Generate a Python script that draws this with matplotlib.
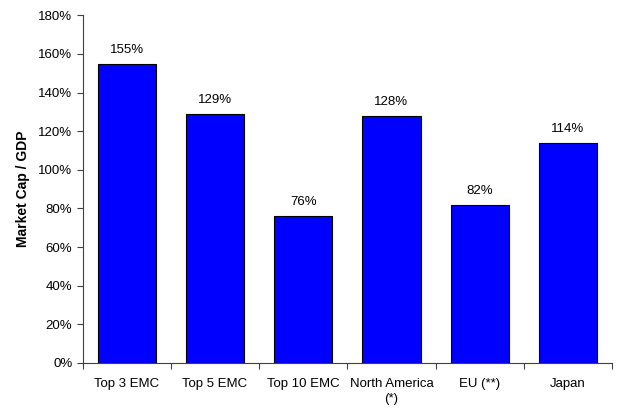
import matplotlib
matplotlib.use("Agg")
import matplotlib.pyplot as plt
import numpy as np

# chart data
categories = ["Top 3 EMC", "Top 5 EMC", "Top 10 EMC", "North America\n(*)", "EU (**)", "Japan"]
values = [155, 129, 76, 128, 82, 114]

plt.rcParams['font.family'] = ['Liberation Sans', 'DejaVu Sans']

fig = plt.figure(figsize=(6.22, 4.09), dpi=100)
ax = fig.add_axes([0.133, 0.1125, 0.851, 0.85])

x = np.arange(len(categories))
bars = ax.bar(x, values, width=0.66, color='#0000FF', edgecolor='black', linewidth=0.8)

for xi, v in zip(x, values):
	ax.text(xi, v + 4, f"{v}%", ha='center', va='bottom', fontsize=9.5)

ax.set_xlim(-0.5, len(categories) - 0.5)
ax.set_ylim(0, 180)
ax.set_yticks(range(0, 181, 20))
ax.set_yticklabels([f"{t}%" for t in range(0, 181, 20)], fontsize=9.5)

# category labels centred, tick marks at boundaries
ax.set_xticks(x)
ax.set_xticklabels(categories, fontsize=9.5, linespacing=1.3)
ax.tick_params(axis='x', which='major', length=0, pad=11)
ax.set_xticks(np.arange(-0.5, len(categories)), minor=True)
ax.tick_params(axis='x', which='minor', length=4, direction='out', width=0.8, color='#404040')
ax.tick_params(axis='y', length=4, direction='out', width=0.8, color='#404040')

ax.spines['top'].set_visible(False)
ax.spines['right'].set_visible(False)
for s in ['left', 'bottom']:
	ax.spines[s].set_linewidth(0.8)
	ax.spines[s].set_color('#404040')

ax.set_ylabel("Market Cap / GDP", fontsize=10, fontweight='bold', labelpad=6)

fig.savefig("out.png", dpi=100)
